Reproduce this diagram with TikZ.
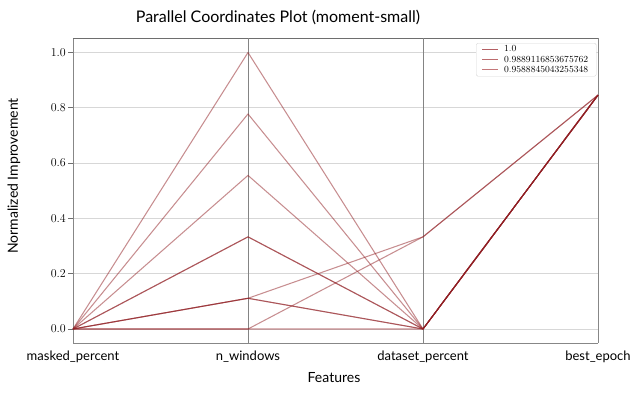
\documentclass[tikz,border=0pt]{standalone}
\usepackage{fontspec}
\newfontfamily\labelfont{Lato}
\definecolor{pline}{RGB}{145,30,35}
\definecolor{legA}{RGB}{180,95,100}
\definecolor{legB}{RGB}{188,108,110}
\definecolor{legC}{RGB}{196,120,122}
\definecolor{gridc}{RGB}{215,215,215}
\definecolor{axisc}{RGB}{135,135,135}
\definecolor{spinec}{RGB}{110,110,110}
\begin{document}
\begin{tikzpicture}[x=1pt,y=-1pt,
  labeltext/.style={font=\labelfont\fontsize{13}{15}\selectfont, inner sep=0pt},
  ticktext/.style={font=\fontsize{12}{14}\selectfont, inner sep=0pt},
  legtext/.style={font=\fontsize{9.3}{11}\selectfont, inner sep=0pt, anchor=west},
  legline/.style={line width=1.3pt},
  dataline/.style={draw=pline, line width=1.05pt, opacity=0.5, line join=round},
  gridline/.style={draw=gridc, line width=0.8pt},
  axisline/.style={draw=axisc, line width=0.9pt}]
  % canvas
  \fill[white] (0,0) rectangle (635,394);
  \useasboundingbox (0,0) rectangle (635,394);

  % plot area in data units: x = axis index, y = normalized value
  \begin{scope}[shift={(73,329)}, x=175pt, y=276.5pt]
    % horizontal grid and y ticks
    \foreach \v/\t in {0/0.0,0.2/0.2,0.4/0.4,0.6/0.6,0.8/0.8,1/1.0} {
      \draw[gridline] (0,\v) -- (3,\v);
      \draw[draw=spinec, line width=0.8pt] (0,\v) -- ++(-5pt,0);
      \node[ticktext, anchor=east] (yt\t) at ([xshift=-7pt]0,\v) {\t};
    }
    % frame and parallel axes
    \draw[axisline] (0,-0.0506) -- (0,1.0524);
    \draw[axisline] (3,-0.0506) -- (3,1.0524);
    \draw[axisline] (0,-0.0506) -- (3,-0.0506);
    \draw[draw=spinec, line width=1pt] (0,1.0524) -- (3,1.0524);
    \draw[axisline, draw=spinec!85] (1,-0.0506) -- (1,1.0524);
    \draw[axisline, draw=spinec!85] (2,-0.0506) -- (2,1.0524);

    % data series: masked_percent, n_windows, dataset_percent, best_epoch
    \foreach \a/\b in {1/0, 0.7778/0, 0.5556/0, 0.3333/0, 0.3333/0,
                       0.1111/0, 0.1111/0, 0.1111/0.3333, 0/0.3333, 0/0}
      \draw[dataline] (0,0) -- (1,\a) -- (2,\b) -- (3,0.846);

    % axis names
    \node[labeltext, anchor=north] (ax0) at ([yshift=-8pt]0,-0.0506) {masked\_percent};
    \node[labeltext, anchor=north] (ax1) at ([yshift=-8pt]1,-0.0506) {n\_windows};
    \node[labeltext, anchor=north] (ax2) at ([yshift=-8pt]2,-0.0506) {dataset\_percent};
    \node[labeltext, anchor=north] (ax3) at ([yshift=-8pt]3,-0.0506) {best\_epoch};
  \end{scope}

  % titles
  \node[font=\labelfont\fontsize{16}{18}\selectfont, inner sep=0pt] (title) at (278,17) {Parallel Coordinates Plot (moment-small)};
  \node[labeltext, font=\labelfont\fontsize{14}{16}\selectfont] (xlab) at (334,378) {Features};
  \node[labeltext, font=\labelfont\fontsize{14}{16}\selectfont, rotate=90] (ylab) at (14,176) {Normalized Improvement};

  % legend
  \node[draw=gridc, fill=white, rounded corners=1.5pt, minimum width=120pt, minimum height=33pt, anchor=north west, inner sep=0pt] (legend) at (476,43) {};
  \draw[legline, legA] (482,49.5) -- (498,49.5);
  \draw[legline, legB] (482,59.5) -- (498,59.5);
  \draw[legline, legC] (482,69.5) -- (498,69.5);
  \node[legtext] (legone) at (504,49) {1.0};
  \node[legtext] (legtwo) at (504,59) {0.9889116853675762};
  \node[legtext] (legthree) at (504,69) {0.9588845043255348};
\end{tikzpicture}
\end{document}
